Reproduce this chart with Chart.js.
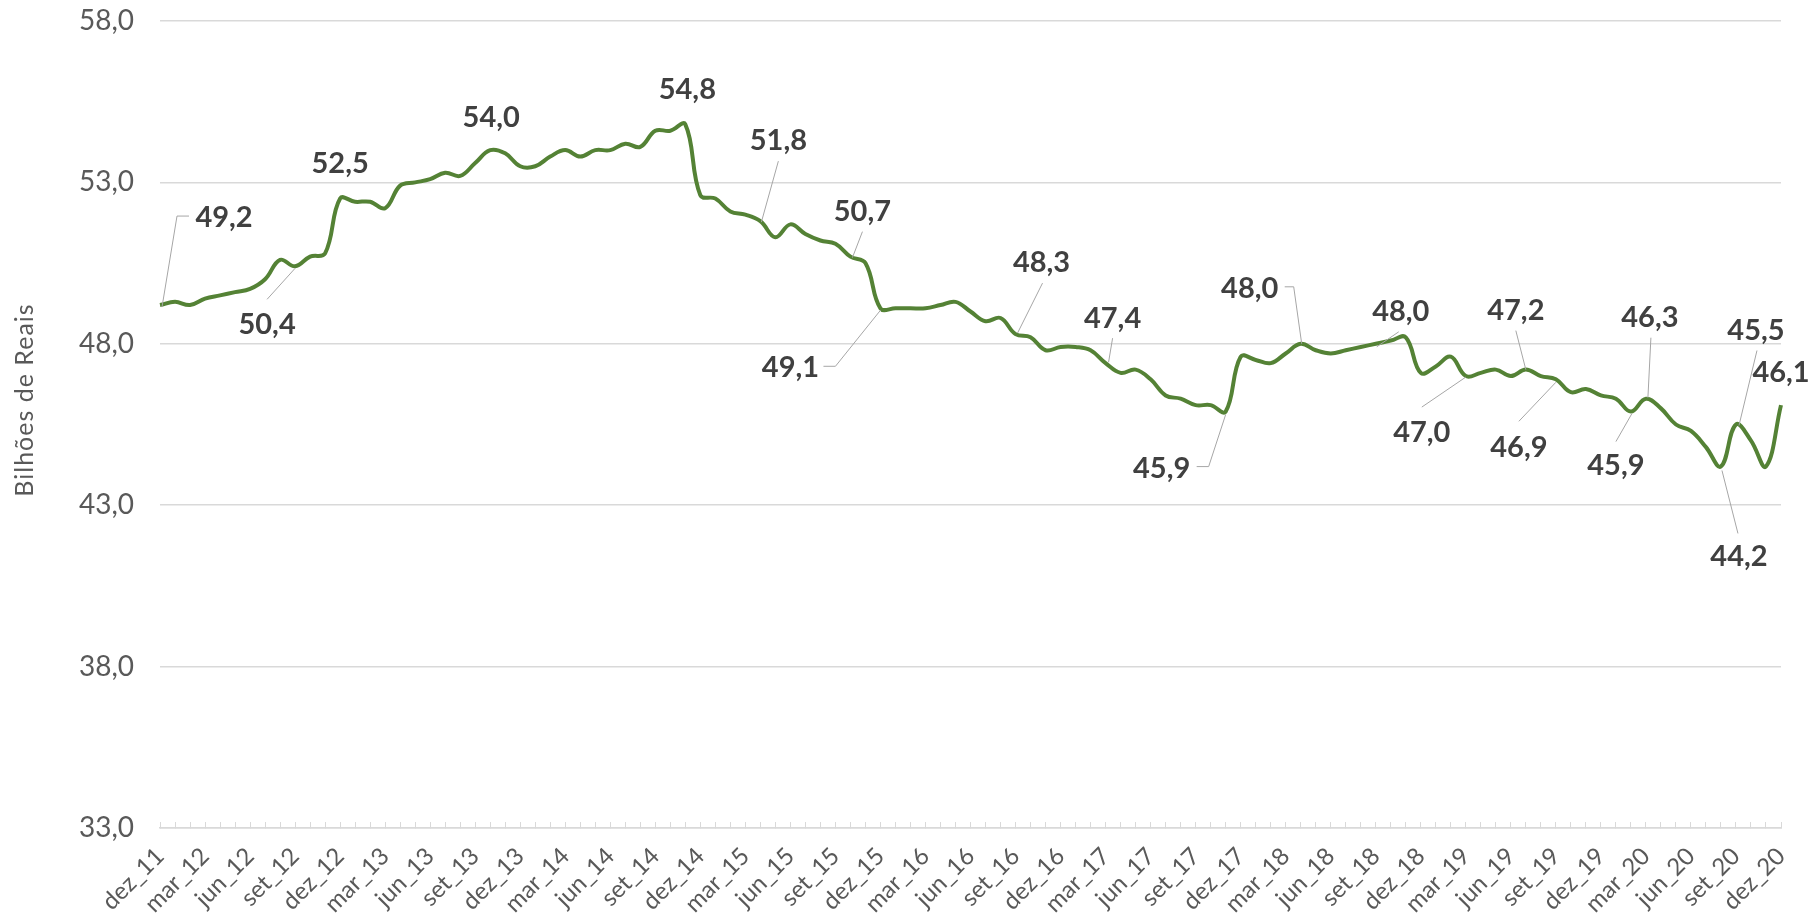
<!DOCTYPE html>
<html>
<head>
<meta charset="utf-8">
<script src="https://cdn.jsdelivr.net/npm/chart.js@4.4.1/dist/chart.umd.min.js"></script>
<style>
  html, body { margin: 0; padding: 0; background: #fff; }
</style>
</head>
<body>
<canvas id="grafico" width="1813" height="919"></canvas>
<script>
// meses (dez_11 .. dez_20)
var meses = ['jan', 'fev', 'mar', 'abr', 'mai', 'jun', 'jul', 'ago', 'set', 'out', 'nov', 'dez'];
var rotulos = ['dez_11'];
for (var a = 12; a <= 20; a++) {
  for (var m = 0; m < 12; m++) rotulos.push(meses[m] + '_' + a);
}

// Bilhões de Reais, mensal
var valores = [
  49.2, 49.3, 49.2, 49.4, 49.5, 49.6, 49.7, 50.0, 50.6, 50.4, 50.7, 50.8,
  52.5, 52.4, 52.4, 52.2, 52.9, 53.0, 53.1, 53.3, 53.2, 53.6, 54.0, 53.9,
  53.5, 53.5, 53.8, 54.0, 53.8, 54.0, 54.0, 54.2, 54.1, 54.6, 54.6, 54.8,
  52.6, 52.5, 52.1, 52.0, 51.8, 51.3, 51.7, 51.4, 51.2, 51.1, 50.7, 50.5,
  49.1, 49.1, 49.1, 49.1, 49.2, 49.3, 49.0, 48.7, 48.8, 48.3, 48.2, 47.8,
  47.9, 47.9, 47.8, 47.4, 47.1, 47.2, 46.9, 46.4, 46.3, 46.1, 46.1, 45.9,
  47.6, 47.5, 47.4, 47.7, 48.0, 47.8, 47.7, 47.8, 47.9, 48.0, 48.1, 48.2,
  47.1, 47.3, 47.6, 47.0, 47.1, 47.2, 47.0, 47.2, 47.0, 46.9, 46.5, 46.6,
  46.4, 46.3, 45.9, 46.3, 46.0, 45.5, 45.3, 44.8, 44.2, 45.5, 45.0, 44.2,
  46.1
];

// pontos com rótulo de dados
var destaques = [0, 9, 12, 22, 35, 40, 46, 48, 57, 63, 71, 76, 81, 87, 91, 93, 98, 99, 104, 105, 108];

// posição do rótulo e linha guia, relativas ao ponto
var posRotulos = {
  0:   { dx: 64,  dy: -87, guia: [[29, -89], [17, -89], [2, 2]] },
  9:   { dx: -28, dy: 58,  guia: [[-28, 33], [0, 2]] },
  12:  { dx: 0,   dy: -35 },
  22:  { dx: 1,   dy: -32 },
  35:  { dx: 2,   dy: -35 },
  40:  { dx: 18,  dy: -80, guia: [[18, -60], [1, 1]] },
  46:  { dx: 12,  dy: -45, guia: [[12, -25], [2, 1]] },
  48:  { dx: -90, dy: 59,  guia: [[-57, 58], [-45, 58], [0, 2]] },
  57:  { dx: 26,  dy: -71, guia: [[27, -51], [2, -1]] },
  63:  { dx: 7,   dy: -45, guia: [[7, -25], [3, -1]] },
  71:  { dx: -64, dy: 57,  guia: [[-29, 55], [-17, 55], [0, 3]] },
  76:  { dx: -51, dy: -55, guia: [[-16, -57], [-7, -57], [1, 0]] },
  81:  { dx: 25,  dy: -32, guia: [[23, -12], [1, 3]] },
  87:  { dx: -44, dy: 57,  guia: [[-44, 31], [0, 1]] },
  91:  { dx: -10, dy: -59, guia: [[-10, -39], [0, 0]] },
  93:  { dx: -37, dy: 68,  guia: [[-37, 42], [0, 3]] },
  98:  { dx: -15, dy: 54,  guia: [[-15, 30], [1, 2]] },
  99:  { dx: 4,   dy: -81, guia: [[5, -61], [2, -1]] },
  104: { dx: 18,  dy: 90,  guia: [[1, 4], [17, 67]] },
  105: { dx: 20,  dy: -94, guia: [[21, -74], [3, 1]] },
  108: { dx: 0,   dy: -32 }
};

function fmt(v) { return v.toFixed(1).replace('.', ','); }

var rotulosDados = {
  id: 'rotulosDados',
  afterDatasetsDraw: function (chart) {
    var ctx = chart.ctx;
    var pts = chart.getDatasetMeta(0).data;
    ctx.save();
    destaques.forEach(function (i) {
      var p = pts[i], o = posRotulos[i];
      if (o.guia) {
        ctx.beginPath();
        ctx.strokeStyle = '#a6a6a6';
        ctx.lineWidth = 1;
        o.guia.forEach(function (g, k) {
          if (k === 0) ctx.moveTo(p.x + g[0], p.y + g[1]);
          else ctx.lineTo(p.x + g[0], p.y + g[1]);
        });
        ctx.stroke();
      }
      ctx.font = 'bold 29px Lato';
      ctx.fillStyle = '#404040';
      ctx.textAlign = 'center';
      ctx.textBaseline = 'middle';
      ctx.fillText(fmt(valores[i]), p.x + o.dx, p.y + o.dy);
    });
    ctx.restore();
  }
};

var tituloEixo = {
  id: 'tituloEixo',
  afterDraw: function (chart) {
    var ctx = chart.ctx;
    ctx.save();
    ctx.translate(25, 400);
    ctx.rotate(-Math.PI / 2);
    ctx.font = '25px Lato';
    ctx.letterSpacing = '1px';
    ctx.fillStyle = '#595959';
    ctx.textAlign = 'center';
    ctx.textBaseline = 'middle';
    ctx.fillText('Bilhões de Reais', 0, 0);
    ctx.restore();
  }
};

Chart.defaults.font.family = 'Lato';

var grafico = document.getElementById('grafico');
var chart = new Chart(grafico, {
  type: 'line',
  data: {
    labels: rotulos,
    datasets: [{
      label: 'Bilhões de Reais',
      data: valores,
      borderColor: '#548235',
      backgroundColor: 'transparent',
      borderWidth: 4,
      pointRadius: 0,
      tension: 0.4
    }]
  },
  options: {
    responsive: false,
    animation: false,
    devicePixelRatio: 1,
    layout: { padding: { top: 21, right: 32, left: 0, bottom: 0 } },
    plugins: { legend: { display: false }, tooltip: { enabled: false } },
    scales: {
      x: {
        grid: { drawOnChartArea: false, color: '#d9d9d9', tickLength: -6, lineWidth: 1 },
        border: { color: '#d9d9d9', width: 1.5 },
        ticks: {
          autoSkip: false,
          maxRotation: 45,
          minRotation: 45,
          padding: 20,
          color: '#595959',
          font: { size: 24 },
          callback: function (v, i) { return i % 3 === 0 ? rotulos[i] : ''; }
        },
        afterFit: function (s) { s.height = 91; s.paddingLeft = 0; s.paddingRight = 0; }
      },
      y: {
        min: 33,
        max: 58,
        grid: { color: '#d9d9d9', lineWidth: 1.5, drawTicks: false },
        border: { display: false },
        ticks: {
          stepSize: 5,
          padding: 26,
          color: '#595959',
          font: { size: 28 },
          callback: function (v) { return fmt(v); }
        },
        afterFit: function (s) { s.width = 160; s.paddingTop = 0; s.paddingBottom = 0; }
      }
    }
  },
  plugins: [rotulosDados, tituloEixo]
});
</script>
</body>
</html>
